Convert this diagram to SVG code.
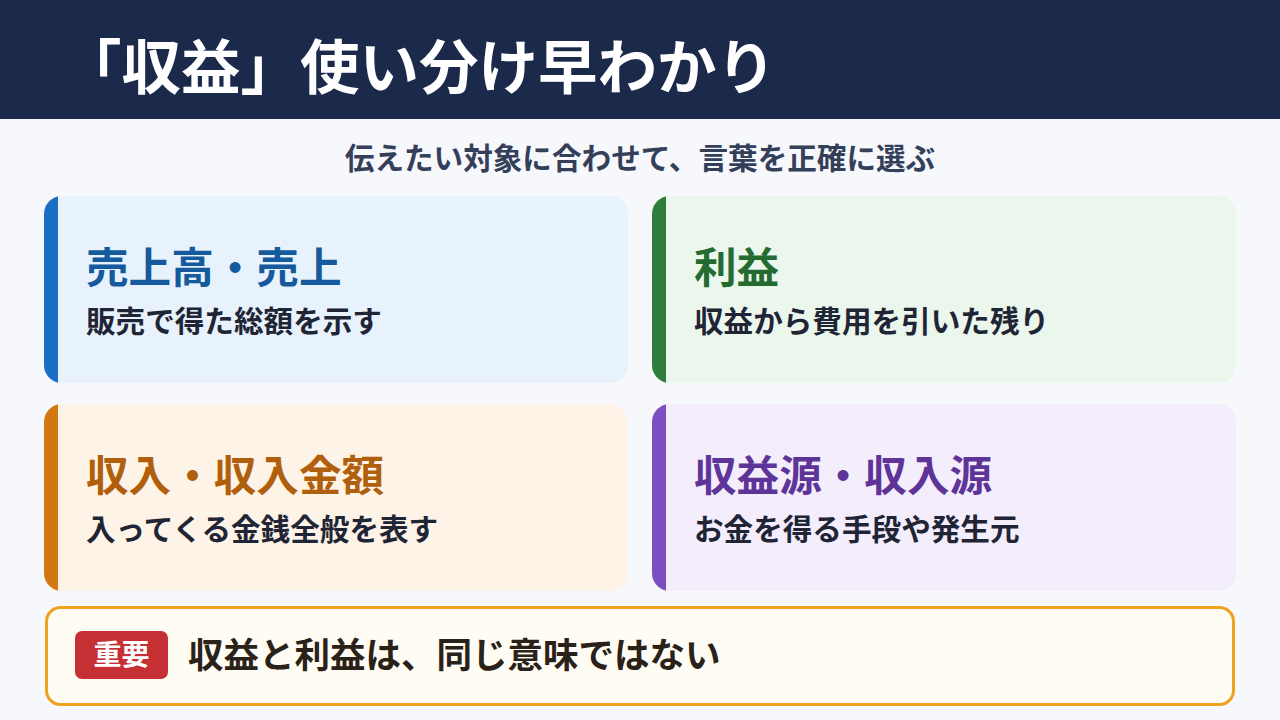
<svg xmlns="http://www.w3.org/2000/svg" width="1280" height="720" viewBox="0 0 1280 720">
<style>
text{font-family:"Noto Sans CJK JP","Noto Sans",sans-serif;font-weight:700}
.t{font-size:42.6px}
.d{font-size:29.6px;fill:#1f2535}
</style>
<defs>
<clipPath id="c1"><rect x="44" y="196" width="584" height="187" rx="18"/></clipPath>
<clipPath id="c2"><rect x="652" y="196" width="584" height="187" rx="18"/></clipPath>
<clipPath id="c3"><rect x="44" y="404" width="584" height="187" rx="18"/></clipPath>
<clipPath id="c4"><rect x="652" y="404" width="584" height="187" rx="18"/></clipPath>
</defs>
<rect width="1280" height="720" fill="#f6f8fc"/>
<g id="header"><rect width="1280" height="119" fill="#1b2a4a"/>
<text x="62" y="89" font-size="59.5" fill="#fff">「収益」使い分け早わかり</text></g>
<text x="640" y="169" font-size="29.6" fill="#34405a" text-anchor="middle">伝えたい対象に合わせて、言葉を正確に選ぶ</text>
<g id="card1" clip-path="url(#c1)"><rect x="44" y="196" width="584" height="187" fill="#e8f2fd"/><rect x="44" y="196" width="14" height="187" fill="#1a6fc4"/>
<text x="86" y="283" class="t" fill="#145a9c">売上高・売上</text><text x="86" y="332" class="d">販売で得た総額を示す</text></g>
<g id="card2" clip-path="url(#c2)"><rect x="652" y="196" width="584" height="187" fill="#ebf6ec"/><rect x="652" y="196" width="14" height="187" fill="#2e7d3c"/>
<text x="694" y="283" class="t" fill="#236b30">利益</text><text x="694" y="332" class="d">収益から費用を引いた残り</text></g>
<g id="card3" clip-path="url(#c3)"><rect x="44" y="404" width="584" height="187" fill="#fdf3e7"/><rect x="44" y="404" width="14" height="187" fill="#d27712"/>
<text x="86" y="491" class="t" fill="#b0600c">収入・収入金額</text><text x="86" y="540" class="d">入ってくる金銭全般を表す</text></g>
<g id="card4" clip-path="url(#c4)"><rect x="652" y="404" width="584" height="187" fill="#f3edfc"/><rect x="652" y="404" width="14" height="187" fill="#7b4fbf"/>
<text x="694" y="491" class="t" fill="#5e3498">収益源・収入源</text><text x="694" y="540" class="d">お金を得る手段や発生元</text></g>
<g id="note"><rect x="46.5" y="607.5" width="1187" height="97" rx="14" fill="#fffcf3" stroke="#f0a21e" stroke-width="3"/>
<rect x="75" y="631" width="93" height="48" rx="7" fill="#c62f33"/>
<text x="121.5" y="665" font-size="28" fill="#fff" text-anchor="middle">重要</text>
<text x="188" y="668" font-size="35.5" fill="#2a2218">収益と利益は、同じ意味ではない</text></g>
</svg>
